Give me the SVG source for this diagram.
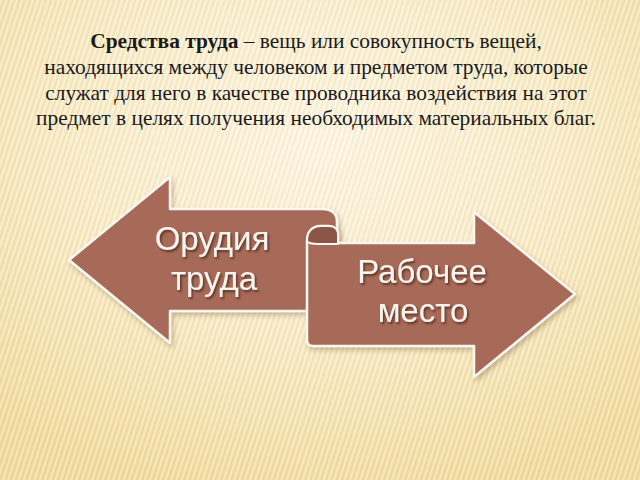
<svg xmlns="http://www.w3.org/2000/svg" width="640" height="480" viewBox="0 0 640 480">
<defs>
  <radialGradient id="bg" cx="0.5" cy="0.3" r="0.75">
    <stop offset="0" stop-color="#fdf5e2"/>
    <stop offset="0.5" stop-color="#f8ebc6"/>
    <stop offset="1" stop-color="#f0d998"/>
  </radialGradient>
  <pattern id="stripes" width="5" height="5" patternUnits="userSpaceOnUse" patternTransform="rotate(18)">
    <rect width="2" height="5" fill="#ffffff" opacity="0.35"/>
    <rect x="3" width="1.5" height="5" fill="#d9bd78" opacity="0.18"/>
  </pattern>
  <filter id="sh" x="-10%" y="-10%" width="125%" height="125%">
    <feDropShadow dx="2" dy="3" stdDeviation="2.5" flood-color="#6b4a2a" flood-opacity="0.35"/>
  </filter>
  <filter id="tsh" x="-10%" y="-20%" width="130%" height="150%">
    <feDropShadow dx="1.5" dy="2" stdDeviation="1.2" flood-color="#3a1c12" flood-opacity="0.7"/>
  </filter>
</defs>
<style>
  .arrow { fill: #a86b58; stroke: #fbf6ee; stroke-width: 2.5; stroke-linejoin: round; }
  .curl { fill: #8c5546; stroke: #fbf6ee; stroke-width: 2; stroke-linejoin: round; }
  .lbl { font-family: "Liberation Sans", Arial, sans-serif; font-size: 33px; fill: #f9f4ee; text-anchor: middle; }
  .title { font-family: "Liberation Serif", "Times New Roman", serif; font-size: 21.4px; fill: #1a1a1a; text-anchor: middle; }
</style>
<rect width="640" height="480" fill="url(#bg)"/>
<rect width="640" height="480" fill="url(#stripes)"/>

<g id="title">
  <text class="title" x="316" y="48"><tspan font-weight="bold">Средства труда</tspan> – вещь или совокупность вещей,</text>
  <text class="title" x="316" y="74">находящихся между человеком и предметом труда, которые</text>
  <text class="title" x="316" y="100">служат для него в качестве проводника воздействия на этот</text>
  <text class="title" x="316" y="125">предмет в целях получения необходимых материальных благ.</text>
</g>

<g id="node-orudiya" filter="url(#sh)">
  <path class="arrow" d="M69,260 L170,177 L170,209 L322,209 C332,209 337,213 337,222 L337,311 L170,311 L170,343 Z"/>
  <text class="lbl" x="212" y="250" filter="url(#tsh)">Орудия</text>
  <text class="lbl" x="214" y="290" filter="url(#tsh)">труда</text>
</g>

<g id="node-rabochee" filter="url(#sh)">
  <path class="arrow" d="M307,241 C307,232 312,226 321,226 L329,226 C334,226 338,229 338,235 L338,243 L474,243 L474,212 L575,294 L474,377 L474,346 L313,346 Q307,346 307,340 Z"/>
  <path class="curl" d="M307,241 C307,232 312,226 321,226 L329,226 C334,226 338,229 338,235 L338,244 L318,244 C312,244 308,243 307,241 Z"/>
  <text class="lbl" x="422" y="283" filter="url(#tsh)">Рабочее</text>
  <text class="lbl" x="423" y="322" filter="url(#tsh)">место</text>
</g>

<g id="connectors"></g>
</svg>
